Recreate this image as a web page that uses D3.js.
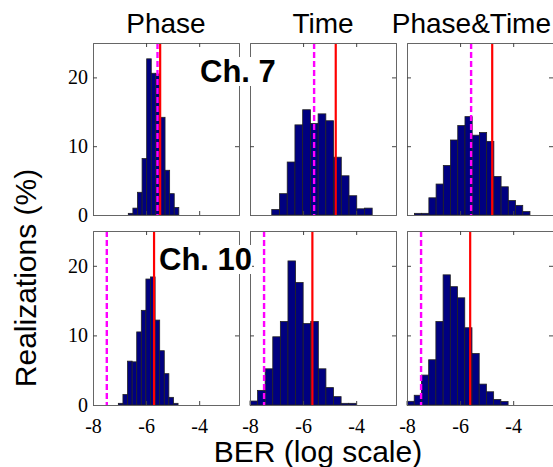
<!DOCTYPE html>
<html>
<head>
<meta charset="utf-8">
<script src="https://cdn.jsdelivr.net/npm/d3@7"></script>
<style>
  body { margin: 0; background: #fff; }
  svg { display: block; }
</style>
</head>
<body>
<svg id="chart" width="553" height="467"></svg>
<script>
// column titles and row labels
const methods = ["Phase", "Time", "Phase&Time"];
const channels = ["Ch. 7", "Ch. 10"];

const xTicks = [-8, -6, -4];
const yTicks = [0, 10, 20];

// histogram bins: first left edge and bin width (log10 BER), per row / column
const binStart = [[-6.67, -7.18, -7.72], [-7.045, -8.0, -8.0]];
const binWidth = [[0.173, 0.291, 0.272], [0.173, 0.286, 0.272]];

// realizations (%) per bin
const ch7Phase = [0.24, 1.0, 3.3, 8.2, 22.7, 20.6, 20.5, 14.2, 6.5, 3.1, 1.1];
const ch7Time = [0.8, 3.1, 7.7, 13.1, 15.3, 13.3, 14.7, 13.7, 8.4, 5.7, 2.8, 0.9, 1.0];
const ch7Both = [0.24, 0.24, 2.5, 4.5, 7.2, 10.9, 13.0, 14.3, 11.6, 12.0, 10.7, 5.6, 4.1, 2.1, 1.4, 0.5];
const ch10Phase = [0.24, 1.5, 6.3, 6.2, 10.5, 13.6, 18.1, 18.4, 12.2, 7.8, 4.5, 1.1, 0.24];
const ch10Time = [0.57, 2.1, 5.2, 9.8, 12.0, 20.7, 17.6, 11.7, 12.0, 5.2, 2.5, 1.2, 0.24, 0.24];
const ch10Both = [0.53, 1.4, 4.3, 6.5, 12.0, 18.7, 17.0, 15.4, 11.1, 7.4, 3.0, 1.9, 0.8, 0.5];
const counts = [[ch7Phase, ch7Time, ch7Both], [ch10Phase, ch10Time, ch10Both]];

// reference lines (log10 BER)
const redBER = [[-5.47, -4.77, -4.79], [-5.70, -5.65, -5.62]];
const magentaBER = [[-5.57, -5.585, -5.585], [-7.48, -7.47, -7.47]];

const svg = d3.select("#chart");

const colX = [93, 250, 407];
const panelW = 146;
const rowY = [[43, 215], [231, 405]];

const x = d3.scaleLinear().domain([-8, -2.5]).range([0, panelW]);
const plainNum = function(d) { return String(d); };

const gPanels = svg.append("g");
const gText = svg.append("g");

channels.forEach(function(ch, r) {
  const y = d3.scaleLinear().domain([0, 25]).range([rowY[r][1] - rowY[r][0], 0]);
  const h = rowY[r][1] - rowY[r][0];

  methods.forEach(function(m, c) {
    const g = gPanels.append("g")
      .attr("transform", "translate(" + colX[c] + "," + rowY[r][0] + ")");

    const bins = counts[r][c].map(function(v, i) {
      return { x0: binStart[r][c] + i * binWidth[r][c], x1: binStart[r][c] + (i + 1) * binWidth[r][c], v: v };
    });

    g.selectAll("rect.bar")
      .data(bins)
      .enter().append("rect")
        .attr("class", "bar")
        .attr("x", function(d) { return x(d.x0); })
        .attr("width", function(d) { return x(d.x1) - x(d.x0); })
        .attr("y", function(d) { return y(d.v); })
        .attr("height", function(d) { return y(0) - y(d.v); })
        .attr("fill", "#000080")
        .attr("stroke", "#222")
        .attr("stroke-width", 0.8);

    g.append("line")
      .attr("x1", x(magentaBER[r][c])).attr("x2", x(magentaBER[r][c]))
      .attr("y1", 0).attr("y2", h)
      .attr("stroke", "#ff00ff")
      .attr("stroke-width", 2.4)
      .attr("stroke-dasharray", "6,3");

    g.append("line")
      .attr("x1", x(redBER[r][c])).attr("x2", x(redBER[r][c]))
      .attr("y1", 0).attr("y2", h)
      .attr("stroke", "#ff0000")
      .attr("stroke-width", 2.2);

    // box with inward ticks on all four sides
    const left = g.append("g").call(d3.axisLeft(y).tickValues(yTicks).tickSize(-4).tickPadding(5).tickFormat(plainNum));
    const right = g.append("g").attr("transform", "translate(" + panelW + ",0)")
      .call(d3.axisRight(y).tickValues(yTicks).tickSize(-4).tickFormat(""));
    const bottom = g.append("g").attr("transform", "translate(0," + h + ")")
      .call(d3.axisBottom(x).tickValues(xTicks).tickSize(-4).tickPadding(14).tickFormat(plainNum));
    const top = g.append("g")
      .call(d3.axisTop(x).tickValues(xTicks).tickSize(-4).tickFormat(""));

    [left, right, bottom, top].forEach(function(a) {
      a.select(".domain").attr("stroke", "#666");
      a.selectAll(".tick line").attr("stroke", "#444");
      a.selectAll("text")
        .attr("font-family", "'Liberation Serif', 'Times New Roman', serif")
        .attr("font-size", 20)
        .attr("fill", "#000");
    });
    if (c > 0) left.selectAll("text").remove();
    if (r === 0) bottom.selectAll("text").remove();
    bottom.selectAll(".tick").filter(function(d) { return d === -8; }).select("line").remove();
    top.selectAll(".tick").filter(function(d) { return d === -8; }).select("line").remove();
  });
});

// column titles
methods.forEach(function(m, c) {
  const t = gText.append("text")
    .attr("y", 33)
    .attr("font-family", "'Liberation Sans', Arial, sans-serif")
    .attr("font-size", 28)
    .text(m);
  if (c === 2) t.attr("x", 551).attr("text-anchor", "end");
  else t.attr("x", colX[c] + panelW / 2).attr("text-anchor", "middle");
});

// channel labels with white background
const chPos = [[200, 82], [159, 270]];
channels.forEach(function(ch, r) {
  const bgr = gText.append("rect").attr("fill", "#fff");
  const t = gText.append("text")
    .attr("x", chPos[r][0]).attr("y", chPos[r][1])
    .attr("font-family", "'Liberation Sans', Arial, sans-serif")
    .attr("font-size", 31)
    .attr("font-weight", "bold")
    .text(ch);
  const bb = t.node().getBBox();
  bgr.attr("x", bb.x).attr("y", bb.y + 3).attr("width", bb.width).attr("height", bb.height - 6);
});

// axis titles
gText.append("text")
  .attr("x", 318).attr("y", 462)
  .attr("text-anchor", "middle")
  .attr("font-family", "'Liberation Sans', Arial, sans-serif")
  .attr("font-size", 30)
  .text("BER (log scale)");

gText.append("text")
  .attr("transform", "translate(36,278) rotate(-90)")
  .attr("text-anchor", "middle")
  .attr("font-family", "'Liberation Sans', Arial, sans-serif")
  .attr("font-size", 30)
  .text("Realizations (%)");
</script>
</body>
</html>
